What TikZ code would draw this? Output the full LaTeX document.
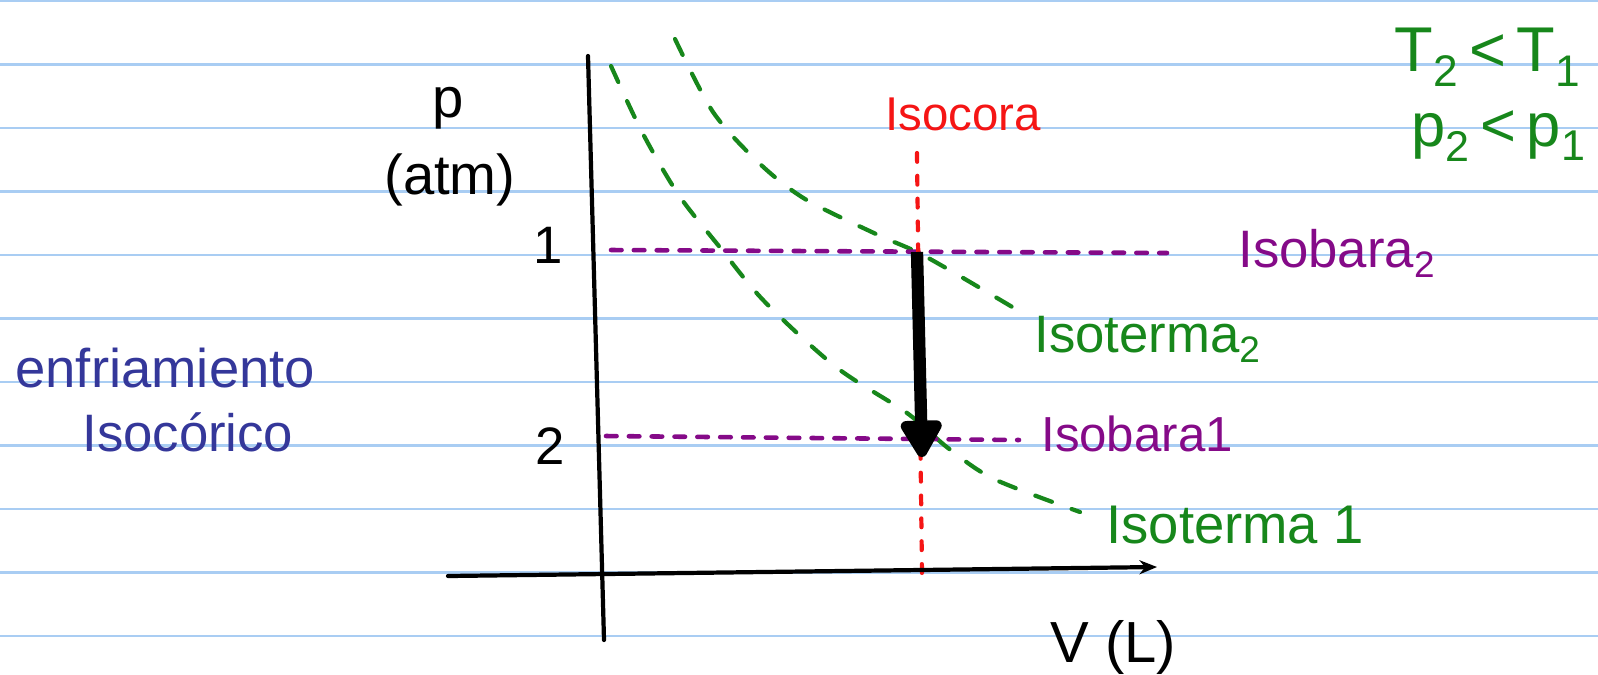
\documentclass[tikz,border=0pt]{standalone}
\usepackage{fontspec}
\setmainfont{Liberation Sans}
\usetikzlibrary{arrows.meta}
\definecolor{ruleblue}{HTML}{A9CDF3}
\definecolor{isogreen}{HTML}{17871B}
\definecolor{isopurple}{HTML}{850A88}
\definecolor{isored}{HTML}{F51515}
\definecolor{noteblue}{HTML}{34379A}

\begin{document}
\begin{tikzpicture}[
  x=0.02cm,y=-0.02cm,
  >=Stealth,
  ruling/.style={ruleblue,line width=1.4pt},
  axis/.style={line width=2.4pt,line cap=round},
  isotherm/.style={isogreen,line width=2.4pt,dash pattern=on 10pt off 12pt,line cap=round},
  isobar/.style={isopurple,line width=2.6pt,dash pattern=on 6pt off 7pt,line cap=round},
  isochore/.style={isored,line width=2.4pt,dash pattern=on 5pt off 8pt,line cap=round},
  lbl/.style={anchor=base west,inner sep=0pt,font=\fontsize{30}{34}\selectfont},
  every node/.style={inner sep=0pt}
]
  \useasboundingbox (0,0) rectangle (1598,674);
  \clip (0,0) rectangle (1598,674);
  \fill[white] (0,0) rectangle (1598,674);
  \foreach \k in {0,...,10}
    \draw[ruling] (0,1+63.5*\k) -- (1598,1+63.5*\k);

  \coordinate (ytop) at (588,56);
  \coordinate (ybot) at (604,640);
  \coordinate (xstart) at (448,576);
  \coordinate (xend) at (1157,567);
  \coordinate (s1) at (917,252);
  \coordinate (s2) at (922,457);

  \draw[isotherm] plot[smooth] coordinates {(675,39) (713,112) (759,163) (805,199) (876,234) (917,252) (958,275) (1019,311)};
  \draw[isotherm] plot[smooth] coordinates {(611,66) (642,132) (678,194) (718,245) (764,301) (836,367) (907,413) (948,448) (994,479) (1080,512)};

  \coordinate (b2l) at (611,250);
  \coordinate (b2r) at (1167,253);
  \coordinate (b1l) at (606,436);
  \coordinate (b1r) at (1019,440);
  \draw[isobar] (b2l) -- (b2r);
  \draw[isobar] (b1l) -- (b1r);

  \coordinate (vtop) at (917,153);
  \coordinate (vbot) at (922,576);
  \draw[isochore] (vtop) -- (vbot);

  \draw[axis] (ytop) -- (ybot);
  \draw[axis,-{Stealth[length=10pt,width=8pt]}] (xstart) -- (xend);

  \draw[line width=7pt,-{Triangle[length=24pt,width=26pt,round]}] (s1) -- (s2);

  \node[lbl,isored,font=\fontsize{27}{30}\selectfont] (isocora) at (885,130) {Isocora};
  \node[lbl,isopurple] (isobara2) at (1238,267) {Isobara\textsubscript{2}};
  \node[lbl,isogreen] (isoterma2) at (1034,352) {Isoterma\textsubscript{2}};
  \node[lbl,isopurple,font=\fontsize{28}{32}\selectfont] (isobara1) at (1041,451) {Isobara1};
  \node[lbl,isogreen,font=\fontsize{31}{34}\selectfont] (isoterma1) at (1106,543) {Isoterma 1};

  \node[lbl,isogreen,font=\fontsize{36}{40}\selectfont] (tcond) at (1394,71) {T\textsubscript{2}\,<\,T\textsubscript{1}};
  \node[lbl,isogreen,font=\fontsize{35}{40}\selectfont] (pcond) at (1411,146) {p\textsubscript{2}\,<\,p\textsubscript{1}};

  \node[lbl,noteblue,font=\fontsize{31}{34}\selectfont] (enfr) at (15,387) {enfriamiento};
  \node[lbl,noteblue] (isocor) at (82,451) {Isocórico};

  \node[anchor=base,font=\fontsize{32}{36}\selectfont] (plabel) at (448,117) {p};
  \node[lbl,font=\fontsize{32}{36}\selectfont] (punit) at (384,194) {(atm)};
  \node[anchor=base,font=\fontsize{30}{34}\selectfont] (tick1) at (548,263) {1};
  \node[anchor=base,font=\fontsize{30}{34}\selectfont] (tick2) at (550,464) {2};
  \node[lbl,font=\fontsize{33}{36}\selectfont] (vlabel) at (1050,662) {V (L)};
\end{tikzpicture}
\end{document}
